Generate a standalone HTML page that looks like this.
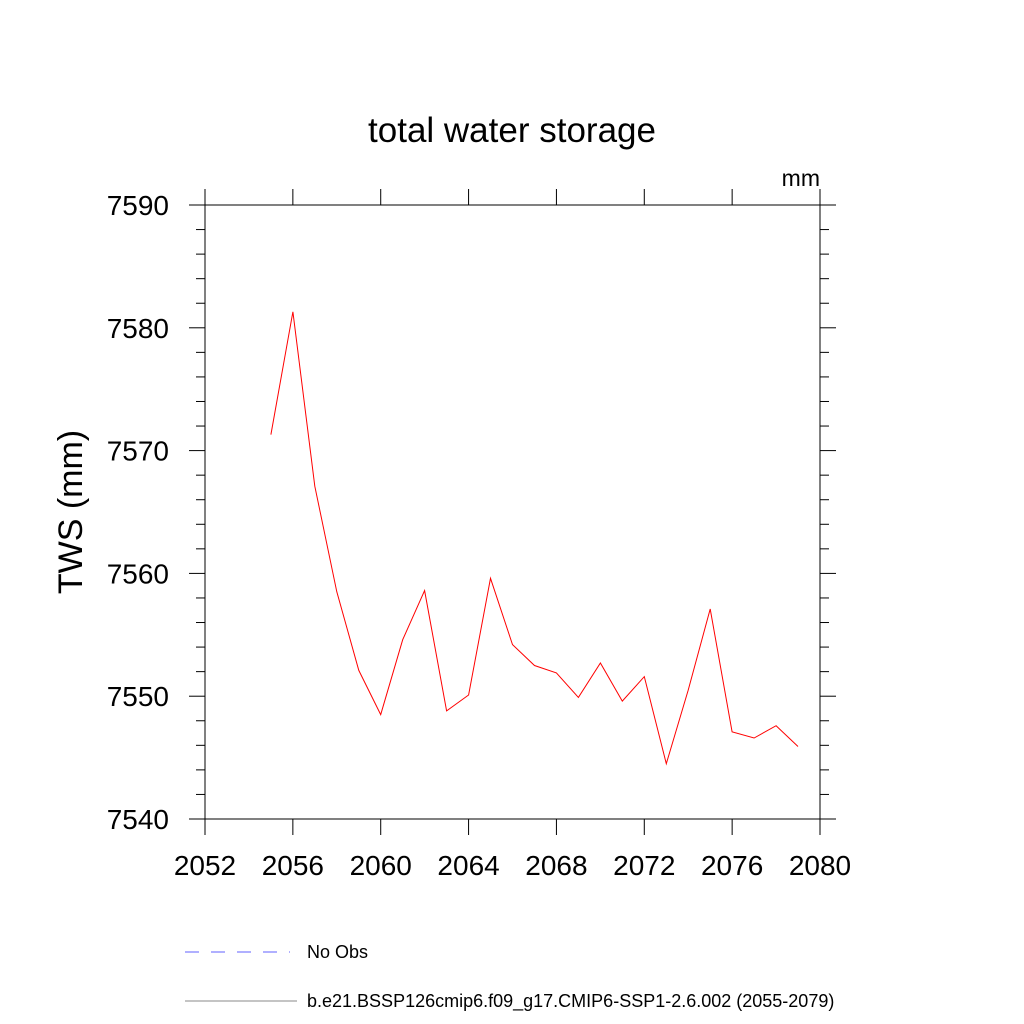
<!DOCTYPE html>
<html><head><meta charset="utf-8"><style>
body{margin:0;background:#fff;}
svg{display:block;font-family:"Liberation Sans",sans-serif;}
</style></head><body>
<svg id="chart" width="1024" height="1024">
<text x="512" y="142" font-size="35" text-anchor="middle">total water storage</text>
<text x="820" y="186" font-size="23" text-anchor="end">mm</text>
<text transform="translate(82,512) rotate(-90)" font-size="34" text-anchor="middle">TWS  (mm)</text>
<rect x="205" y="205" width="615" height="614" fill="none" stroke="#000" stroke-width="1"/>
<g id="axes"></g>
<path id="series" fill="none" stroke="#ff0000" stroke-width="1"/>
<line x1="185" y1="952" x2="290" y2="952" stroke="#6060ff" stroke-dasharray="14,12"/>
<text x="307" y="958" font-size="18">No Obs</text>
<line x1="185" y1="1001" x2="297" y2="1001" stroke="#888"/>
<text x="307" y="1007" font-size="18">b.e21.BSSP126cmip6.f09_g17.CMIP6-SSP1-2.6.002 (2055-2079)</text>
</svg>
<script>
const years=[2055,2056,2057,2058,2059,2060,2061,2062,2063,2064,2065,2066,2067,2068,2069,2070,2071,2072,2073,2074,2075,2076,2077,2078,2079];
const tws=[7571.3,7581.3,7567.1,7558.5,7552.1,7548.5,7554.6,7558.6,7548.8,7550.1,7559.6,7554.2,7552.5,7551.9,7549.9,7552.7,7549.6,7551.6,7544.5,7550.5,7557.1,7547.1,7546.6,7547.6,7545.9];
const xTicks=[2052,2056,2060,2064,2068,2072,2076,2080];
const yTicks=[7540,7550,7560,7570,7580,7590];
const X0=205,X1=820,Y0=819,Y1=205;
const xs=v=>X0+(v-2052)/(2080-2052)*(X1-X0);
const ys=v=>Y0-(v-7540)/(7590-7540)*(Y0-Y1);
const NS="http://www.w3.org/2000/svg";
const g=document.getElementById('axes');
function ln(x1,y1,x2,y2,name){const l=document.createElementNS(NS,'line');l.setAttribute('x1',x1);l.setAttribute('y1',y1);l.setAttribute('x2',x2);l.setAttribute('y2',y2);l.setAttribute('stroke','#000');


g.appendChild(l);}
function tx(x,y,s,anchor,name){const t=document.createElementNS(NS,'text');t.setAttribute('x',x);t.setAttribute('y',y);t.setAttribute('font-size','28');t.setAttribute('text-anchor',anchor);t.textContent=s;


g.appendChild(t);}
xTicks.forEach(v=>{const x=xs(v);ln(x,Y0,x,Y0+16,'x-major-tick');ln(x,Y1,x,Y1-16,'x-major-tick-top');tx(x,Y0+56,String(v),'middle','x-tick-label');});
yTicks.forEach(v=>{const y=ys(v);ln(X0,y,X0-16,y,'y-major-tick');ln(X1,y,X1+16,y,'y-major-tick-right');tx(X0-36,y+10,String(v),'end','y-tick-label');});
for(let v=7542;v<7590;v+=2){if(v%10){const y=ys(v);ln(X0,y,X0-9,y,'y-minor-tick');ln(X1,y,X1+9,y,'y-minor-tick-right');}}
document.getElementById('series').setAttribute('d',years.map((yr,i)=>(i?'L':'M')+xs(yr).toFixed(1)+','+ys(tws[i]).toFixed(1)).join(' '));
</script>
</body></html>
